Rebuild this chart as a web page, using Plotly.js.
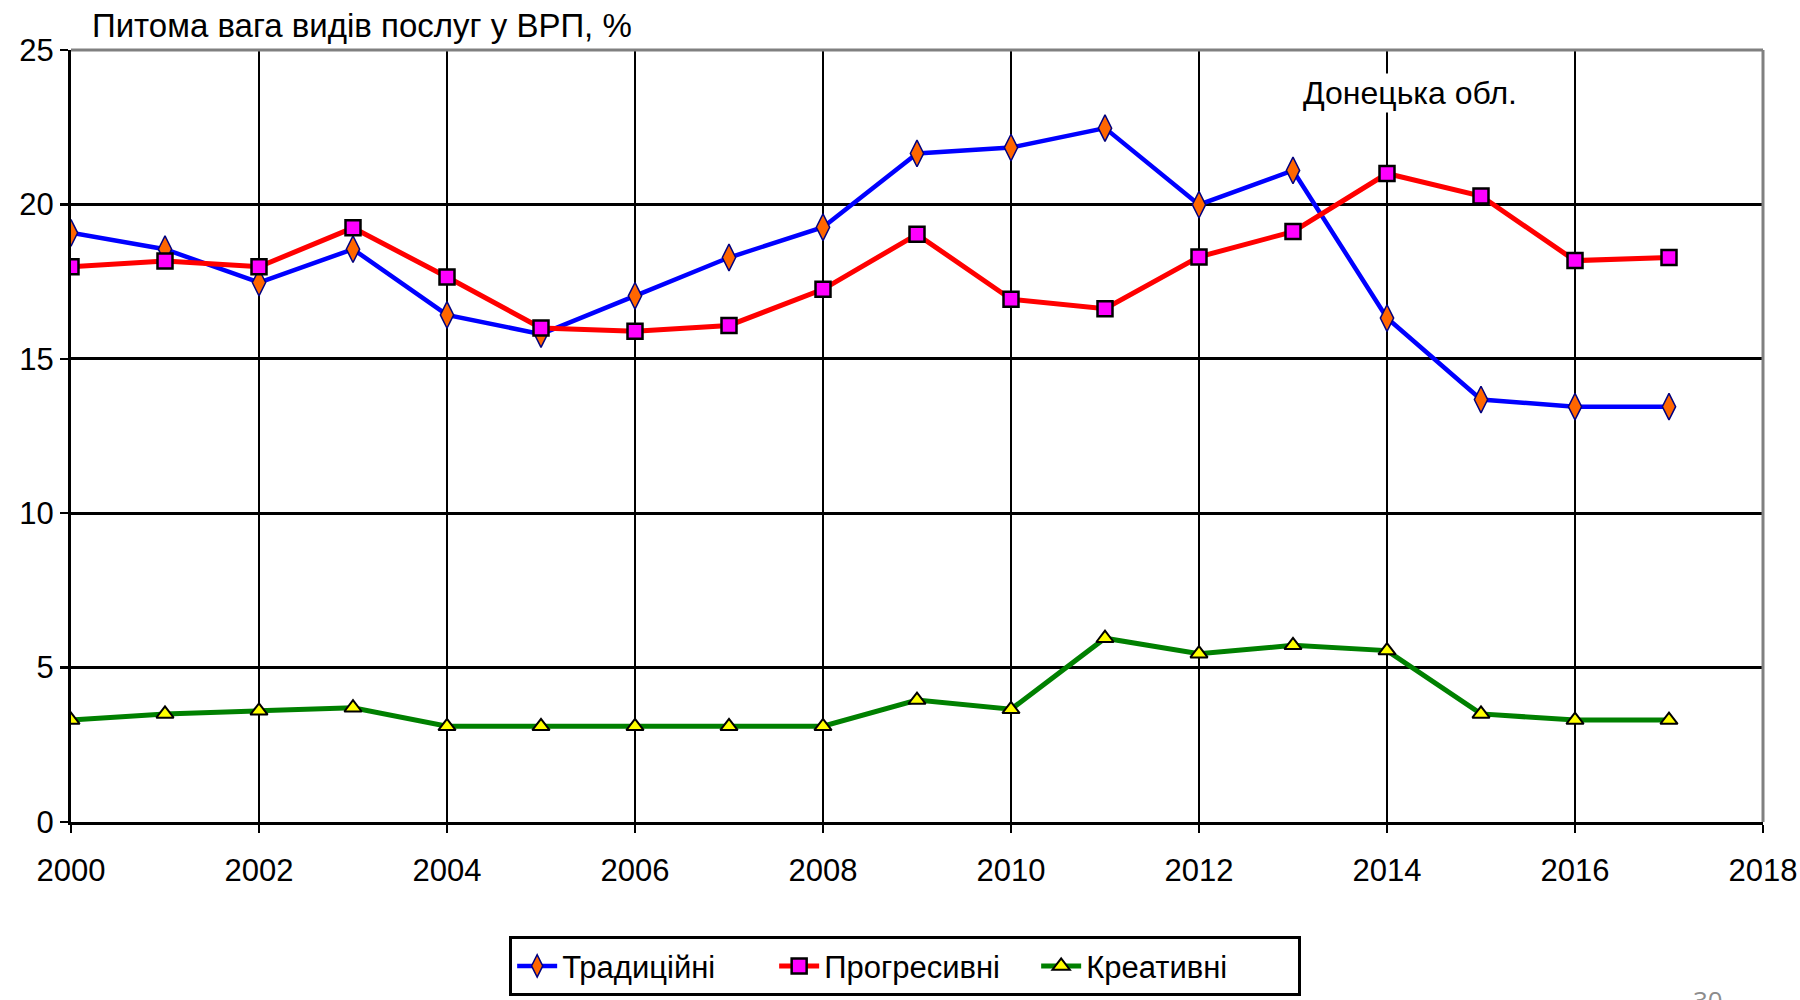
<!DOCTYPE html>
<html><head><meta charset="utf-8">
<script src="https://cdn.plot.ly/plotly-3.0.1.min.js"></script>
<style>html,body{margin:0;padding:0;background:#fff;}#chart{width:1800px;height:1000px;}</style>
</head><body><div id="chart"></div>
<script>
const years = [2000,2001,2002,2003,2004,2005,2006,2007,2008,2009,2010,2011,2012,2013,2014,2015,2016,2017];
const traditional = [19.08,18.55,17.47,18.55,16.42,15.8,17.04,18.28,19.26,21.65,21.84,22.47,19.99,21.1,16.32,13.68,13.45,13.45];
const progressive = [17.98,18.17,17.98,19.24,17.65,16.0,15.89,16.08,17.25,19.03,16.93,16.62,18.3,19.12,21.0,20.27,18.18,18.28];
const creative = [3.3,3.5,3.6,3.7,3.1,3.1,3.1,3.1,3.1,3.95,3.65,5.95,5.45,5.72,5.55,3.5,3.3,3.3];
const seriesNames = ['Традиційні','Прогресивні','Креативні'];
const xTickValues = [2000,2002,2004,2006,2008,2010,2012,2014,2016,2018];
const yTickValues = [0,5,10,15,20,25];
const chartTitle = 'Питома вага видів послуг у ВРП, %';
const regionLabel = 'Донецька обл.';
const pageNumber = '30';

const FONT = '"Liberation Sans Narrow", "Arial Narrow", "Liberation Sans", Arial, sans-serif';

const traces = [
  {x: years, y: traditional, name: seriesNames[0], type: 'scatter', mode: 'lines+markers',
   line: {color: '#0000FF', width: 4.5},
   marker: {symbol: 'diamond-tall', size: 19, color: '#FF6600', line: {color: '#000080', width: 1.5}}},
  {x: years, y: progressive, name: seriesNames[1], type: 'scatter', mode: 'lines+markers',
   line: {color: '#FF0000', width: 5},
   marker: {symbol: 'square', size: 15, color: '#FF00FF', line: {color: '#000000', width: 2.5}}},
  {x: years, y: creative, name: seriesNames[2], type: 'scatter', mode: 'lines+markers',
   line: {color: '#008000', width: 5},
   marker: {symbol: 'triangle-up', size: 15, color: '#FFFF00', line: {color: '#000000', width: 2}}}
];

const layout = {
  width: 1800, height: 1000,
  paper_bgcolor: '#ffffff', plot_bgcolor: '#ffffff',
  margin: {l: 71, r: 37, t: 50, b: 178, autoexpand: false},
  font: {family: FONT, size: 32, color: '#000000'},
  showlegend: true,
  title: {text: chartTitle, x: 0.0124, xref: 'paper', xanchor: 'left', y: 0.975, yref: 'container', yanchor: 'middle',
          font: {family: FONT, size: 33, color: '#000000'}},
  xaxis: {range: [2000, 2018], tickmode: 'array', tickvals: xTickValues, ticktext: xTickValues.map(String),
          showgrid: true, gridcolor: '#000000', gridwidth: 2.5, zeroline: false,
          showline: true, linecolor: '#000000', linewidth: 3,
          ticks: 'outside', ticklen: 8, tickwidth: 2.5, tickcolor: '#000000',
          ticklabelstandoff: 11, ticklabeloverflow: 'allow', tickfont: {family: FONT, size: 31}},
  yaxis: {range: [0, 25], tickmode: 'array', tickvals: yTickValues, ticktext: yTickValues.map(String),
          showgrid: true, gridcolor: '#000000', gridwidth: 3, zeroline: false,
          showline: true, linecolor: '#000000', linewidth: 3,
          ticks: 'outside', ticklen: 8, tickwidth: 2.5, tickcolor: '#000000',
          ticklabeloverflow: 'allow', tickfont: {family: FONT, size: 31}},
  legend: {orientation: 'h', x: 0.493, xanchor: 'center', y: -0.148, yanchor: 'top',
           bordercolor: '#000000', borderwidth: 3, bgcolor: '#ffffff',
           font: {family: FONT, size: 31, color: '#000000'}, itemwidth: 40,
           entrywidth: 207, entrywidthmode: 'pixels'},
  shapes: [
    {type: 'line', xref: 'paper', yref: 'paper', x0: 0, x1: 1, y0: 1, y1: 1, line: {color: '#808080', width: 3}, layer: 'above'},
    {type: 'line', xref: 'paper', yref: 'paper', x0: 1, x1: 1, y0: 0, y1: 1, line: {color: '#808080', width: 3}, layer: 'above'}
  ],
  annotations: [
    {text: regionLabel, x: 2014.24, y: 23.6, xref: 'x', yref: 'y', showarrow: false,
     font: {family: FONT, size: 32, color: '#000000'}, bgcolor: '#ffffff'},
    {text: pageNumber, x: 0.9675, y: -0.205, xref: 'paper', yref: 'paper', xanchor: 'center', yanchor: 'top', showarrow: false,
     font: {family: '"Open Sans", "Noto Sans", sans-serif', size: 26, color: '#8c8c8c'}}
  ]
};

Plotly.newPlot('chart', traces, layout, {displayModeBar: false, staticPlot: true});
</script>
</body></html>
